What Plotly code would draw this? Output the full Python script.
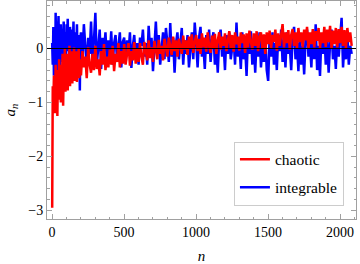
import plotly.graph_objects as go

# n positions (sample indices)
n_vals = list(range(1, 201, 4)) + list(range(201, 2082, 10))

chaotic = [
    -2.95, -0.7, -1.1, -0.5, -1.0, -1.2, -0.3, -0.9, -0.6, -1.25,
    -0.4, -0.95, -0.2, -0.8, -0.55, -1.0, -0.3, -0.75, -0.1, -1.06,
    -0.45, -0.7, 0.0, -0.8, -0.35, -0.65, -0.1, -0.78, -0.3, -0.55,
    0.05, -0.7, -0.25, -0.6, -0.05, -0.65, -0.2, -0.5, 0.02, -0.6,
    -0.3, -0.45, -0.05, -0.62, -0.15, -0.5, 0.0, -0.55, -0.2, -0.4,
    # 201 - 2081, step 10
    -0.5, -0.05, -0.35, -0.15, -0.55, 0.02, -0.3, -0.45, -0.1, -0.4,
    0.05, -0.38, -0.2, -0.5, -0.05, -0.3, 0.08, -0.4, -0.15, -0.35,
    -0.02, -0.3, 0.05, -0.42, -0.1, -0.25, 0.1, -0.35, -0.05, -0.28,
    0.08, -0.3, -0.12, 0.1, -0.32, -0.05, -0.22, 0.12, -0.28, 0.0,
    -0.25, 0.1, -0.15, -0.3, 0.12, -0.08, -0.22, 0.15, -0.18, 0.02,
    -0.25, 0.14, -0.05, -0.2, 0.16, -0.1, 0.05, -0.22, 0.18, -0.02,
    -0.15, 0.2, 0.0, -0.12, 0.22, -0.05, 0.15, -0.15, 0.18, 0.02,
    -0.1, 0.24, -0.02, 0.15, -0.12, 0.22, 0.0, 0.26, -0.08, 0.12,
    0.25, -0.05, 0.18, -0.1, 0.28, 0.02, 0.2, -0.06, 0.3, 0.05,
    -0.08, 0.24, 0.0, 0.27, -0.1, 0.15, 0.3, -0.02, 0.22, 0.05,
    0.28, -0.05, 0.2, 0.32, 0.0, 0.25, -0.06, 0.3, 0.08, 0.22,
    -0.04, 0.3, 0.1, 0.26, -0.08, 0.28, 0.02, 0.33, 0.12, -0.02,
    0.28, 0.05, 0.32, -0.05, 0.22, 0.3, 0.0, 0.26, -0.1, 0.3,
    0.08, 0.33, 0.0, 0.25, 0.12, 0.35, -0.04, 0.28, 0.05, 0.32,
    0.45, 0.02, 0.3, 0.1, 0.34, -0.02, 0.25, 0.36, 0.05, 0.3,
    0.0, 0.38, 0.12, 0.3, 0.02, 0.35, 0.15, 0.4, 0.0, 0.3,
    0.08, 0.36, 0.02, 0.32, 0.14, 0.38, 0.0, 0.3, 0.1, 0.4,
    0.03, 0.35, 0.12, 0.42, 0.0, 0.33, 0.08, 0.38, 0.02, 0.36,
    0.1, 0.4, 0.05, 0.34, 0.0, 0.38, 0.12, 0.3, 0.05,
]

integrable = [
    0.1, -0.3, 0.4, -0.5, 0.2, -0.66, 0.66, -0.2, 0.5, -0.45,
    0.3, 0.6, -0.1, 0.2, -0.35, 0.45, 0.05, 0.35, -0.25, 0.25,
    0.5, -0.1, 0.3, 0.1, -0.3, 0.45, 0.15, 0.55, -0.05, 0.3,
    -0.2, 0.4, 0.05, 0.25, -0.3, 0.35, 0.1, 0.5, -0.1, 0.2,
    -0.4, 0.3, 0.05, 0.45, -0.2, 0.15, -0.5, 0.25, -0.78, 0.2,
    # 201 - 2081, step 10
    0.3, -0.2, 0.45, 0.05, -0.35, 0.2, -0.1, 0.5, -0.25, 0.15,
    0.66, -0.3, 0.1, 0.35, -0.38, 0.2, -0.05, 0.3, -0.25, 0.15,
    -0.15, 0.32, -0.3, 0.1, 0.25, -0.2, 0.05, 0.3, -0.35, 0.12,
    0.2, -0.28, 0.15, -0.1, 0.3, -0.36, 0.05, 0.25, -0.2, 0.1,
    -0.3, 0.2, 0.05, 0.35, -0.15, 0.1, -0.3, 0.42, -0.05, 0.2,
    -0.42, 0.15, 0.5, -0.1, 0.25, -0.3, 0.05, 0.3, -0.2, 0.38,
    0.1, -0.25, 0.47, -0.15, 0.2, -0.45, 0.1, 0.3, -0.2, 0.05,
    0.38, -0.3, 0.15, -0.1, 0.25, -0.35, 0.05, 0.3, -0.2, 0.48,
    0.1, -0.35, 0.2, 0.4, -0.15, 0.05, -0.38, 0.25, -0.1, 0.35,
    -0.25, 0.15, 0.3, -0.3, 0.05, -0.45, 0.2, 0.35, -0.15, 0.1,
    -0.4, 0.25, -0.1, 0.3, -0.2, 0.05, 0.2, -0.3, 0.48, -0.15,
    0.1, -0.38, 0.3, -0.2, 0.05, -0.51, 0.25, -0.1, 0.32, -0.3,
    0.15, -0.45, 0.2, -0.15, 0.3, -0.35, 0.05, -0.25, 0.25, -0.4,
    -0.6, 0.2, -0.15, 0.3, -0.3, 0.1, -0.4, 0.25, -0.05, 0.35,
    -0.25, 0.15, -0.35, 0.3, -0.1, 0.05, -0.4, 0.2, 0.4, -0.2,
    0.1, -0.42, 0.25, -0.3, 0.05, -0.48, 0.2, 0.35, -0.15, 0.1,
    -0.35, 0.3, -0.2, 0.45, -0.4, 0.05, -0.51, 0.25, -0.1, 0.3,
    -0.3, 0.2, -0.45, 0.1, 0.35, -0.2, 0.05, -0.38, 0.25, -0.15,
    0.3, 0.57, -0.35, 0.1, -0.2, 0.3, -0.3, 0.05, -0.1,
]

x_ticks = [0, 500, 1000, 1500, 2000]
y_ticks = [-3, -2, -1, 0]
y_tick_text = ["\u22123", "\u22122", "\u22121", "0"]

FONT = "Liberation Serif"
FRAME = "#a0a0a0"

fig = go.Figure()
fig.add_trace(go.Scatter(x=n_vals, y=integrable, mode="lines", name="integrable",
                         legendgroup="b", legendrank=2,
                         line=dict(color="#0000ff", width=2.5)))
fig.add_trace(go.Scatter(x=n_vals, y=chaotic, mode="lines", name="chaotic",
                         legendgroup="a", legendrank=1,
                         line=dict(color="#ff0000", width=2.5)))

fig.add_shape(type="line", xref="paper", x0=0, x1=1, yref="y", y0=0, y1=0,
              line=dict(color="black", width=1), layer="above")

fig.update_layout(
    width=360, height=264,
    margin=dict(l=47, r=4, t=1, b=45, autoexpand=False),
    paper_bgcolor="white", plot_bgcolor="white",
    font=dict(family=FONT, size=14, color="black"),
    showlegend=True,
    legend=dict(x=0.605, y=0.355, xanchor="left", yanchor="top",
                bgcolor="white", bordercolor="#cccccc", borderwidth=1,
                font=dict(family=FONT, size=15.5, color="black"),
                tracegroupgap=5),
    xaxis=dict(range=[-35, 2111], tickvals=x_ticks, ticks="inside", ticklen=5,
               tickcolor=FRAME, showline=True, linecolor=FRAME, linewidth=1,
               mirror="ticks", showgrid=False, zeroline=False, automargin=False,
               tickfont=dict(family=FONT, size=14, color="black"),
               minor=dict(dtick=100, tick0=0, ticks="inside", ticklen=2.5, tickcolor=FRAME),
               title=dict(text="<i>n</i>", standoff=12,
                          font=dict(family=FONT, size=15, color="black"))),
    yaxis=dict(range=[-3.16, 0.88], tickvals=y_ticks, ticktext=y_tick_text,
               ticks="inside", ticklen=5, tickcolor=FRAME, showline=True,
               linecolor=FRAME, linewidth=1, mirror="ticks", showgrid=False,
               zeroline=False, automargin=False,
               tickfont=dict(family=FONT, size=14, color="black"),
               minor=dict(dtick=0.2, tick0=0, ticks="inside", ticklen=2.5, tickcolor=FRAME),
               title=dict(text="<i>a</i><sub><i>n</i></sub>", standoff=9,
                          font=dict(family=FONT, size=15, color="black"))),
)

fig.write_html("out.html", post_script="document.body.style.margin='0';",
               config={"displayModeBar": False})
